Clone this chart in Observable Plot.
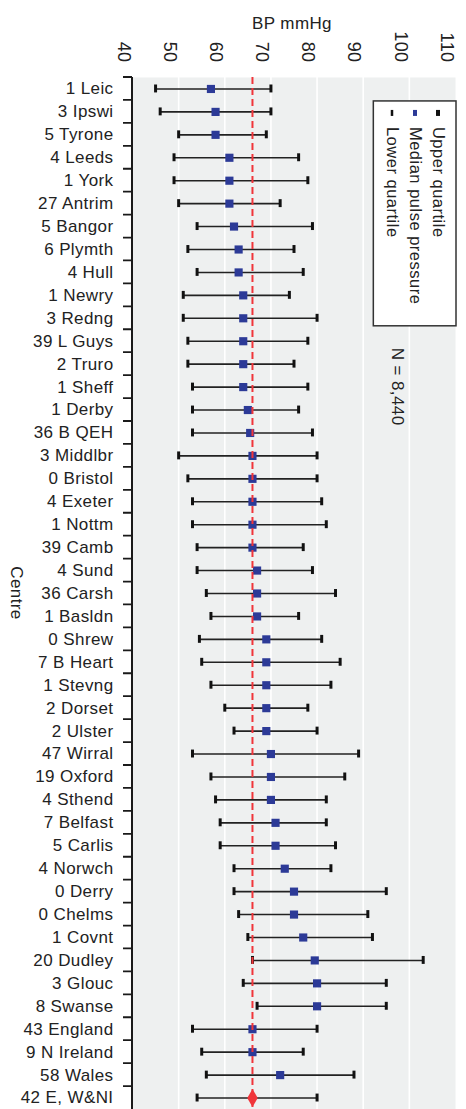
<!DOCTYPE html>
<html><head><meta charset="utf-8">
<script src="https://cdn.jsdelivr.net/npm/d3@7"></script>
<script src="https://cdn.jsdelivr.net/npm/@observablehq/plot@0.6"></script>
<style>
html,body{margin:0;padding:0;background:#fff;}
#chart svg{display:block;}
#chart text{letter-spacing:0.4px;}
</style></head><body><div id="chart"></div>
<script>
// ---- data ----
const centres = ["1 Leic","3 Ipswi","5 Tyrone","4 Leeds","1 York","27 Antrim","5 Bangor","6 Plymth","4 Hull","1 Newry",
  "3 Redng","39 L Guys","2 Truro","1 Sheff","1 Derby","36 B QEH","3 Middlbr","0 Bristol","4 Exeter","1 Nottm",
  "39 Camb","4 Sund","36 Carsh","1 Basldn","0 Shrew","7 B Heart","1 Stevng","2 Dorset","2 Ulster","47 Wirral",
  "19 Oxford","4 Sthend","7 Belfast","5 Carlis","4 Norwch","0 Derry","0 Chelms","1 Covnt","20 Dudley","3 Glouc",
  "8 Swanse","43 England","9 N Ireland","58 Wales","42 E, W&NI"];
const lower  = [45,46,50,49,49,50,54,52,54,51, 51,52,52,53,53,53,50,52,53,53, 54,54,56,57,54.5,55,57,60,62,53, 57,58,59,59,62,62,63,65,66,64, 67,53,55,56,54];
const median = [57,58,58,61,61,61,62,63,63,64, 64,64,64,64,65,65.5,66,66,66,66, 66,67,67,67,69,69,69,69,69,70, 70,70,71,71,73,75,75,77,79.5,80, 80,66,66,72,66];
const upper  = [70,70,69,76,78,72,79,75,77,74, 80,78,75,78,76,79,80,80,81,82, 77,79,84,76,81,85,83,78,80,89, 86,82,82,84,83,95,91,92,103,95, 95,80,77,88,80];
const xTicks = [40,50,60,70,80,90,100,110];
const gridTicks = [50,60,70,80,90,100];
const overallMedian = 66;
const xTitle = "BP mmHg";
const yTitle = "Centre";
const nLabel = "N = 8,440";
const legendItems = ["Upper quartile","Median pulse pressure","Lower quartile"];

// ---- table ----
const rows = centres.map((c,i)=>({centre:c, lo:lower[i], med:median[i], hi:upper[i], total:i===centres.length-1}));

const font = "'Liberation Sans', Arial, Helvetica, sans-serif";
const H = 1109, MT = 77;
const bw = (H - MT) / centres.length;
const ink = "#222";
const blue = "#2c3a97";
const red = "#f0353a";

const chart = Plot.plot({
  width: 466, height: H,
  marginTop: MT, marginLeft: 132, marginRight: 11, marginBottom: 0,
  style: {fontFamily: font, background: "#fff", overflow: "visible"},
  x: {domain: [40, 110], axis: null},
  y: {domain: centres, padding: 0, axis: null, label: null},
  marks: [
    Plot.frame({fill: "#eef0f0", stroke: null}),
    Plot.ruleX(gridTicks, {stroke: "#fff", strokeWidth: 1.6}),
    Plot.axisY({tickSize: 0, tickPadding: 19, label: null, fontSize: 17, fill: ink}),
    Plot.text(xTicks, {x: d => d, text: d => String(d), frameAnchor: "top", dy: -15, dx: -2,
      rotate: 90, textAnchor: "end", fontSize: 18, fill: ink}),
    Plot.text([xTitle], {x: () => 75, frameAnchor: "top", dy: -61, dx: -2, fontSize: 17, fill: ink}),
    Plot.ruleY(rows, {y: "centre", x1: "lo", x2: "hi", stroke: ink, strokeWidth: 1.6}),
    Plot.tickX(rows, {x: "lo", y: "centre", stroke: "#111", strokeWidth: 3, insetTop: 7.5, insetBottom: 7.5}),
    Plot.tickX(rows, {x: "hi", y: "centre", stroke: "#111", strokeWidth: 3, insetTop: 7.5, insetBottom: 7.5}),
    Plot.dot(rows.filter(d => !d.total), {x: "med", y: "centre", symbol: "square", r: 4.6, fill: blue, stroke: null}),
    Plot.ruleX([overallMedian], {stroke: red, strokeWidth: 2, strokeDasharray: "7,4"}),
    Plot.dot(rows.filter(d => d.total), {x: "med", y: "centre", symbol: "diamond", r: 5.5, fill: red, stroke: null})
  ]
});
document.getElementById("chart").appendChild(chart);

// ---- axis line, boundary ticks, legend & annotations, positioned from the chart's scales ----
const xs = chart.scale("x"), ys = chart.scale("y");
const X = v => xs.apply(v);
const Ystart = c => ys.apply(c);
const band = ys.bandwidth || bw;
const Yc = c => Ystart(c) + band / 2;
const svg = d3.select(chart);
const g = svg.append("g").attr("font-family", font).attr("fill", ink);

// y axis line and tick marks at category boundaries
const ax = X(40);
g.append("path").attr("d", `M${ax},${Ystart(centres[0])}V${Ystart(centres[centres.length - 1]) + band}`)
  .attr("fill", "none").attr("stroke", "#1a1a1a").attr("stroke-width", 2);
g.append("path").attr("d", centres.map(c => `M${ax - 9},${Ystart(c)}H${ax}`).join(""))
  .attr("fill", "none").attr("stroke", "#1a1a1a").attr("stroke-width", 1.8);

// y-axis title, centred on the plot frame
const midY = (Yc(centres[0]) + Yc(centres[centres.length - 1])) / 2;
g.append("text").attr("transform", `translate(${ax - 116},${midY}) rotate(90)`)
  .attr("text-anchor", "middle").attr("dy", "0.32em").attr("font-size", 17).text(yTitle);

const bx1 = X(92.3), bx2 = X(110) + 1;
const by1 = Yc(centres[1]) - band/2 + 1, by2 = Yc(centres[10]) + 8;
g.append("rect").attr("x", bx1).attr("y", by1).attr("width", bx2 - bx1).attr("height", by2 - by1)
  .attr("fill", "#fff").attr("stroke", "#333").attr("stroke-width", 1.5);
const colX = [X(110) - 17, X(110) - 40, X(110) - 63];
const markY = by1 + 12;
const markColors = ["#111", blue, "#111"];
legendItems.forEach((t, i) => {
  const w = i === 2 ? 2.5 : 4;
  g.append("rect").attr("x", colX[i] - w/2).attr("y", markY - 3).attr("width", w).attr("height", 6).attr("fill", markColors[i]);
  g.append("text").attr("transform", `translate(${colX[i]},${markY + 14}) rotate(90)`)
    .attr("text-anchor", "start").attr("dy", "0.32em").attr("font-size", 16.5).style("letter-spacing", "0.5px").text(t);
});
g.append("text").attr("transform", `translate(${X(97.5)},${Yc(centres[13])}) rotate(90)`)
  .attr("text-anchor", "middle").attr("dy", "0.32em").attr("font-size", 17).text(nLabel);
</script></body></html>
